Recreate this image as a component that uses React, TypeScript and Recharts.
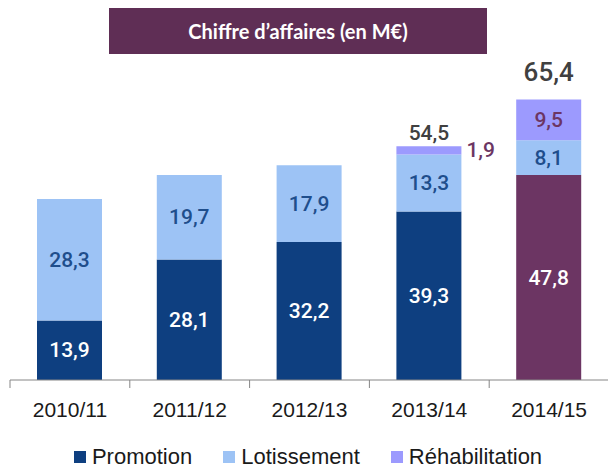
import { BarChart, Bar, XAxis, YAxis, Cell, LabelList, Legend } from 'recharts';

const years = ['2010/11', '2011/12', '2012/13', '2013/14', '2014/15'];
const promotion = [13.9, 28.1, 32.2, 39.3, 47.8];
const lotissement = [28.3, 19.7, 17.9, 13.3, 8.1];
const rehabilitation = [0, 0, 0, 1.9, 9.5];
const totals = [42.2, 47.9, 50.1, 54.5, 65.4];

const DARK_BLUE = '#0E3F80';
const LIGHT_BLUE = '#9DC3F5';
const LAVENDER = '#9C9AFE';
const PURPLE = '#6C3563';

const data = years.map((year, i) => ({
  year,
  promotion: promotion[i],
  lotissement: lotissement[i],
  rehabilitation: rehabilitation[i],
  total: totals[i],
}));

const fmt = (v: number) => v.toFixed(1).replace('.', ',');
const BAND = 119.8;

const valueFont = { fontFamily: 'Roboto', fontWeight: 500 as const, fontSize: 21 };

function segmentLabel(color: string) {
  return (props: any) => {
    const { x, y, width, height, value } = props;
    if (!value) return null;
    return (
      <text
        x={x + width / 2}
        y={y + height / 2}
        textAnchor="middle"
        dominantBaseline="central"
        fill={color}
        {...valueFont}
      >
        {fmt(value)}
      </text>
    );
  };
}

const rehabLabel = (props: any) => {
  const { x, y, width, height, value } = props;
  if (!value) return null;
  const small = height < 16;
  return (
    <text
      x={small ? x + width + 5 : x + width / 2}
      y={y + height / 2}
      textAnchor={small ? 'start' : 'middle'}
      dominantBaseline="central"
      fill={PURPLE}
      {...valueFont}
    >
      {fmt(value)}
    </text>
  );
};

const totalLabel = (props: any) => {
  const { x, y, width, value } = props;
  // the latest year's total is emphasised
  const last = totals.indexOf(value) === totals.length - 1;
  return (
    <text
      x={x + width / 2}
      y={y - (last ? 28 : 13)}
      textAnchor="middle"
      dominantBaseline="central"
      fill="#404040"
      fontFamily="Roboto"
      fontWeight={500}
      fontSize={last ? 26 : 21}
    >
      {fmt(value)}
    </text>
  );
};

const YearTick = (props: any) => {
  const { x, y, payload, index } = props;
  const axisY = y - 8;
  return (
    <g>
      <line x1={x - BAND / 2} x2={x - BAND / 2} y1={axisY} y2={axisY + 8} stroke="#868686" />
      {index === years.length - 1 && (
        <line x1={x + BAND / 2} x2={x + BAND / 2} y1={axisY} y2={axisY + 8} stroke="#868686" />
      )}
      <text
        x={x}
        y={axisY + 29}
        textAnchor="middle"
        dominantBaseline="central"
        fill="#1a1a1a"
        fontFamily="Liberation Sans"
        fontSize={21}
      >
        {payload.value}
      </text>
    </g>
  );
};

const legendItems = [
  { label: 'Promotion', color: DARK_BLUE },
  { label: 'Lotissement', color: LIGHT_BLUE },
  { label: 'Réhabilitation', color: LAVENDER },
];

const renderLegend = () => (
  <div style={{ display: 'flex', justifyContent: 'center', alignItems: 'center', gap: 31, height: 24 }}>
    {legendItems.map((item) => (
      <div key={item.label} style={{ display: 'flex', alignItems: 'center' }}>
        <span style={{ width: 12, height: 12, background: item.color, display: 'inline-block', marginRight: 6 }} />
        <span style={{ fontFamily: 'Liberation Sans', fontSize: 22, color: '#1a1a1a', lineHeight: '24px' }}>
          {item.label}
        </span>
      </div>
    ))}
  </div>
);

export default function App() {
  return (
    <div style={{ position: 'relative', width: 616, height: 476, margin: -8, background: '#fff' }}>
      <div
        style={{
          position: 'absolute',
          left: 109,
          top: 8,
          width: 378,
          height: 46,
          background: '#5F2E55',
          color: '#fff',
          fontFamily: 'Lato',
          fontWeight: 700,
          fontSize: 20,
          display: 'flex',
          alignItems: 'center',
          justifyContent: 'center',
          zIndex: 1,
        }}
      >
        Chiffre d’affaires (en M€)
      </div>
      <BarChart
        width={616}
        height={476}
        data={data}
        margin={{ top: 37, right: 7, left: 10, bottom: 36 }}
        barSize={65}
      >
        <YAxis hide domain={[0, 80]} />
        <XAxis
          dataKey="year"
          height={60}
          interval={0}
          tickLine={false}
          axisLine={{ stroke: '#868686' }}
          tick={<YearTick />}
        />
        <Legend
          layout="horizontal"
          align="center"
          verticalAlign="middle"
          content={renderLegend}
          wrapperStyle={{ position: 'absolute', top: 445, left: 0, width: 616 }}
        />
        <Bar dataKey="promotion" stackId="a" fill={DARK_BLUE} isAnimationActive={false}>
          {data.map((d, i) => (
            <Cell key={d.year} fill={i === years.length - 1 ? PURPLE : DARK_BLUE} />
          ))}
          <LabelList dataKey="promotion" content={segmentLabel('#ffffff')} />
        </Bar>
        <Bar dataKey="lotissement" stackId="a" fill={LIGHT_BLUE} isAnimationActive={false}>
          <LabelList dataKey="lotissement" content={segmentLabel('#1F4E8C')} />
        </Bar>
        <Bar dataKey="rehabilitation" stackId="a" fill={LAVENDER} isAnimationActive={false}>
          <LabelList dataKey="rehabilitation" content={rehabLabel} />
          <LabelList dataKey="total" content={totalLabel} />
        </Bar>
      </BarChart>
    </div>
  );
}
